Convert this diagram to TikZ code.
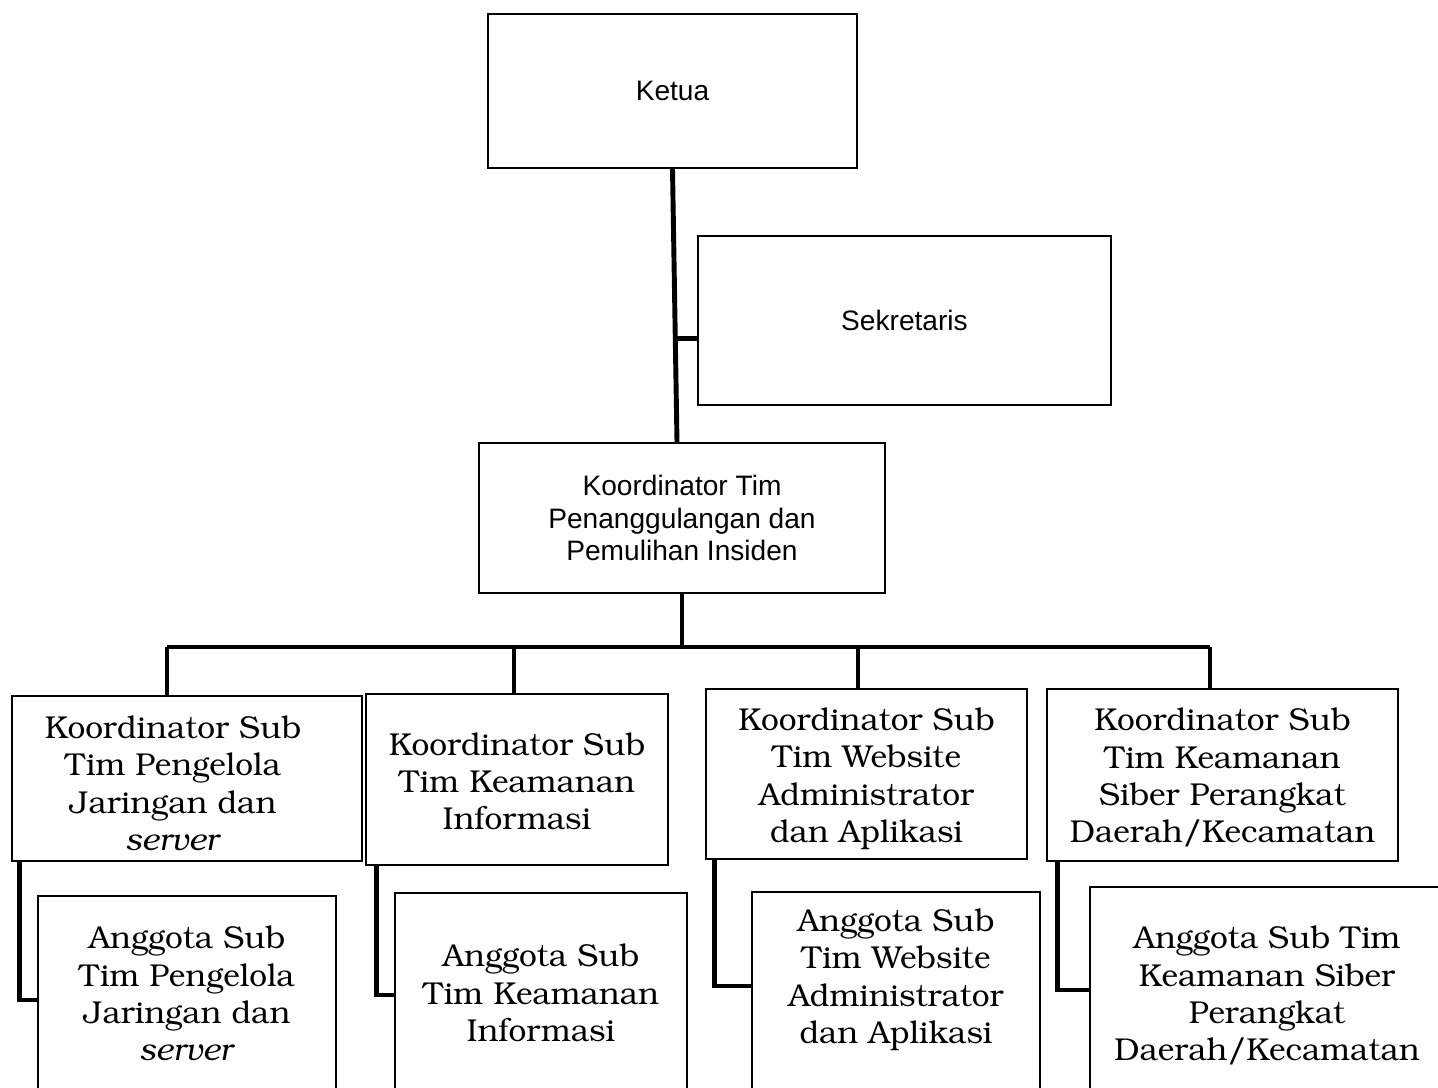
\documentclass[tikz,border=0pt]{standalone}
\usepackage[T1]{fontenc}
\usepackage{fontspec}
\setmainfont{Liberation Sans}
\usepackage{tikz}
\usetikzlibrary{positioning}
\usetikzlibrary{calc}
\newcommand{\bookface}{\fontencoding{T1}\fontfamily{pbk}\selectfont}
\tikzstyle{org_style}=[
	x=0.02cm, y=-0.02cm,
	box/.style={rectangle,draw,line width=0.9pt,align=center,inner sep=0pt,font=\fontsize{16}{18.7}\selectfont},
	subbox/.style={rectangle,draw,line width=0.9pt,align=center,inner sep=0pt,font=\bookface\fontsize{18}{21.3}\selectfont},
	member/.style={rectangle,draw=none,align=center,inner sep=0pt,font=\bookface\fontsize{18}{21.3}\selectfont},
	thick_edge/.style={line width=2.8pt}
]
\begin{document}
\begin{tikzpicture}[org_style]
		
		\clip (0,0) rectangle (1438,1088);
		
		\node[box, minimum width=7.38cm, minimum height=3.08cm]   (ketua) at (672.5,91)   {Ketua};
		\node[box, minimum width=8.26cm, minimum height=3.38cm]   (sekr)  at (904.5,320.5) {Sekretaris};
		\node[box, minimum width=8.12cm, minimum height=3.0cm]    (koord) at (682,518)    {Koordinator Tim\\Penanggulangan dan\\Pemulihan Insiden};
		
		\node[subbox, minimum width=7.0cm,  minimum height=3.3cm]  (k1) at (187,778.5)  {};
		\node[subbox, minimum width=6.04cm, minimum height=3.42cm] (k2) at (517,779.5)  {};
		\node[subbox, minimum width=6.42cm, minimum height=3.4cm]  (k3) at (866.5,774)  {};
		\node[subbox, minimum width=7.02cm, minimum height=3.44cm] (k4) at (1222.5,775) {};
		
		\node[member] (k1t) at (173,783.5)  {Koordinator Sub\\Tim Pengelola\\Jaringan dan\\\textit{server}};
		\node[member] (k2t) at (517,781.5)  {Koordinator Sub\\Tim Keamanan\\Informasi};
		\node[member] (k3t) at (866.5,779)  {Koordinator Sub\\Tim Website\\Administrator\\dan Aplikasi};
		\node[member] (k4t) at (1222.5,778) {Koordinator Sub\\Tim Keamanan\\Siber Perangkat\\Daerah/Kecamatan};
		
		\node[subbox, minimum width=5.96cm, minimum height=4.48cm] (a1) at (187,1008)    {};
		\node[subbox, minimum width=5.84cm, minimum height=4.54cm] (a2) at (541,1006.5)  {};
		\node[subbox, minimum width=5.76cm, minimum height=4.56cm] (a3) at (896,1006)    {};
		\node[subbox, minimum width=7.08cm, minimum height=4.66cm] (a4) at (1267,1003.5) {};
		
		\node[member] (a1t) at (187,994)  {Anggota Sub\\Tim Pengelola\\Jaringan dan\\\textit{server}};
		\node[member] (a2t) at (541,993)  {Anggota Sub\\Tim Keamanan\\Informasi};
		\node[member] (a3t) at (896,980)  {Anggota Sub\\Tim Website\\Administrator\\dan Aplikasi};
		\node[member] (a4t) at (1267,996) {Anggota Sub Tim\\Keamanan Siber\\Perangkat\\Daerah/Kecamatan};
		
		% trunk and branch to Sekretaris
		\coordinate (kt) at ($(koord.north)+(-5,0)$);
		\coordinate (sj) at ($(ketua.south)!0.62!(kt)$);
		\path (ketua.south) edge [thick_edge] (kt)
		(sj) edge [thick_edge] (sj -| sekr.west);
		
		% bar over the sub teams
		\coordinate (j1) at (167,647);
		\coordinate (j2) at (514,647);
		\coordinate (j3) at (858,647);
		\coordinate (j4) at (1210,647);
		\path (koord.south) edge [thick_edge] (koord.south |- j1)
		(j1) edge [thick_edge] (j4);
		\foreach \i in {1,...,4}
			\draw[thick_edge] (j\i) -- (j\i |- k\i.north);
		
		% members
		\foreach \i/\dx/\hy in {1/8/1000, 2/11/995, 3/9/986, 4/11/990}
			\draw[thick_edge] ($(k\i.south west)+(\dx,0)$) |- (a\i.west |- 0,\hy);
		
\end{tikzpicture}
\end{document}
